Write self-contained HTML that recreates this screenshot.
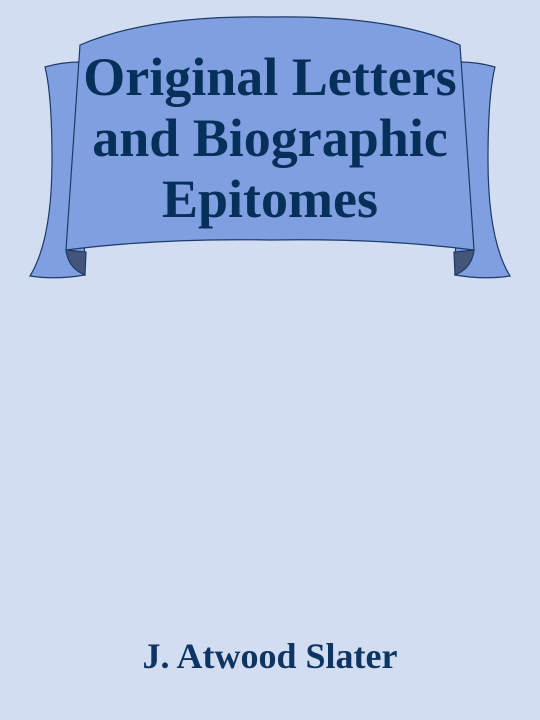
<!DOCTYPE html>
<html><head><meta charset="utf-8"><style>
html,body{margin:0;padding:0}
body{width:540px;height:720px;background:#d3ddf2;position:relative;overflow:hidden;font-family:"Liberation Serif",serif}
svg{position:absolute;left:0;top:0}
.t{position:absolute;left:0;width:540px;text-align:center;color:#06305a;font-weight:bold;white-space:nowrap}
</style></head><body>
<svg width="540" height="720">
<g stroke="#1b3a66" stroke-width="1.2">
<path d="M45,67 Q62,62 80,62 L85,275 Q55,280 30,276 Q52,240 52,160 Q52,95 45,67 Z" fill="#7f9fe0"/>
<path d="M495,67 Q478,62 460,62 L455,275 Q485,280 510,276 Q488,240 488,160 Q488,95 495,67 Z" fill="#7f9fe0"/>
<path d="M66,250 L86,252 L85,275 Q68,268 66,250 Z" fill="#44557a"/>
<path d="M474,250 L454,252 L455,275 Q472,268 474,250 Z" fill="#44557a"/>
<path d="M80,45 Q150,15 270,17 Q390,15 460,45 L474,250 Q380,238 270,240 Q160,238 66,250 Z" fill="#7f9fe0"/>
</g></svg>
<div class="t" style="top:47px;font-size:54px;line-height:61px">Original Letters</div>
<div class="t" style="top:108px;font-size:54px;line-height:61px">and Biographic</div>
<div class="t" style="top:169px;font-size:54px;line-height:61px">Epitomes</div>
<div class="t" style="top:636px;font-size:36px;line-height:40px;color:#0d3563">J. Atwood Slater</div>
</body></html>
